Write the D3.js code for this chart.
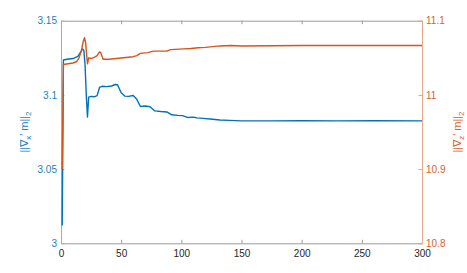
<!DOCTYPE html>
<html>
<head>
<meta charset="utf-8">
<script src="https://cdn.jsdelivr.net/npm/d3@7"></script>
<style>
  html, body { margin: 0; padding: 0; background: #fff; }
  svg { display: block; font-family: "Liberation Sans", Arial, sans-serif; }
</style>
</head>
<body>
<div id="chart"></div>
<script>
// iteration ticks and axis ticks
const xTicks = [0, 50, 100, 150, 200, 250, 300];
const leftTicks = [3, 3.05, 3.1, 3.15];
const leftTickLabels = ['3', '3.05', '3.1', '3.15'];
const rightTicks = [10.8, 10.9, 11, 11.1];
const rightTickLabels = ['10.8', '10.9', '11', '11.1'];

// ||grad_x' m||_2  (left axis, blue)
const blueIter = [1, 2, 5, 10, 14, 16, 18, 19, 20, 21, 22, 23, 25, 28, 30, 32, 34, 38, 42, 45, 47, 50, 53, 56, 60, 63, 66, 70, 74, 78, 83, 88, 92, 97, 101, 105, 110, 113, 118, 124, 132, 140, 150, 175, 200, 230, 260, 300];
const blueValues = [3.012, 3.1235, 3.1240, 3.1245, 3.1260, 3.1285, 3.1310, 3.1300, 3.1200, 3.1000, 3.0850, 3.0985, 3.0990, 3.0988, 3.0995, 3.1050, 3.1058, 3.1056, 3.1060, 3.1070, 3.1068, 3.1015, 3.0992, 3.0990, 3.0996, 3.0970, 3.0922, 3.0925, 3.0920, 3.0892, 3.0888, 3.0885, 3.0866, 3.0862, 3.0860, 3.0848, 3.0850, 3.0845, 3.0842, 3.0838, 3.0831, 3.0828, 3.0825, 3.0825, 3.0826, 3.0825, 3.0826, 3.0825];

// ||grad_z' m||_2  (right axis, orange)
const orangeIter = [1, 2, 6, 10, 13, 15, 17, 18.5, 19.5, 20.5, 21.5, 22, 23, 25, 28, 30, 32, 33, 35, 40, 46, 52, 60, 63, 66, 72, 77, 88, 91, 102, 108, 114, 120, 132, 141, 150, 200, 250, 300];
const orangeValues = [10.900, 11.041, 11.042, 11.043, 11.045, 11.050, 11.060, 11.072, 11.077, 11.070, 11.050, 11.042, 11.050, 11.049, 11.051, 11.053, 11.058, 11.057, 11.048, 11.048, 11.049, 11.050, 11.0515, 11.053, 11.056, 11.057, 11.059, 11.059, 11.061, 11.062, 11.0625, 11.0636, 11.064, 11.066, 11.0665, 11.066, 11.0665, 11.0665, 11.0665];

const width = 467, height = 273;
const margin = { top: 20.7, right: 45, bottom: 29.7, left: 61 };
const blue = '#0072BD', orange = '#D95319';

const svg = d3.select('#chart').append('svg')
  .attr('width', width)
  .attr('height', height)
  .attr('viewBox', [0, 0, width, height]);

const x = d3.scaleLinear().domain([0, 300]).range([margin.left, width - margin.right]);
const yL = d3.scaleLinear().domain([3, 3.15]).range([height - margin.bottom, margin.top]);
const yR = d3.scaleLinear().domain([10.8, 11.1]).range([height - margin.bottom, margin.top]);

svg.append('defs').append('clipPath').attr('id', 'plot')
  .append('rect')
  .attr('x', margin.left).attr('y', margin.top)
  .attr('width', width - margin.left - margin.right)
  .attr('height', height - margin.top - margin.bottom);

// bottom axis
const xAxis = svg.append('g')
  .attr('transform', `translate(0,${height - margin.bottom})`)
  .call(d3.axisBottom(x).tickValues(xTicks).tickFormat(d3.format('d'))
    .tickSizeInner(-3.5).tickSizeOuter(0).tickPadding(7));
// top axis (mirror ticks, no labels)
const xTop = svg.append('g')
  .attr('transform', `translate(0,${margin.top})`)
  .call(d3.axisTop(x).tickValues(xTicks).tickFormat('')
    .tickSizeInner(-3.5).tickSizeOuter(0));
[xAxis, xTop].forEach(g => {
  g.select('.domain').attr('stroke', '#9a9a9a');
  g.selectAll('.tick line').attr('stroke', '#9a9a9a');
  g.selectAll('text').attr('fill', '#262626').attr('font-size', 10)
    .attr('font-family', '"Liberation Sans", Arial, sans-serif');
});

// left axis
const leftAxis = svg.append('g')
  .attr('transform', `translate(${margin.left},0)`)
  .call(d3.axisLeft(yL).tickValues(leftTicks).tickFormat((d, i) => leftTickLabels[i])
    .tickSizeInner(-3.5).tickSizeOuter(0).tickPadding(4));
leftAxis.select('.domain').attr('stroke', '#7fb6de');
leftAxis.selectAll('.tick line').attr('stroke', '#9fb6c8');
leftAxis.selectAll('text').attr('fill', '#1a7fc6').attr('font-size', 10)
  .attr('font-family', '"Liberation Sans", Arial, sans-serif');

// right axis
const rightAxis = svg.append('g')
  .attr('transform', `translate(${width - margin.right},0)`)
  .call(d3.axisRight(yR).tickValues(rightTicks).tickFormat((d, i) => rightTickLabels[i])
    .tickSizeInner(-3.5).tickSizeOuter(0).tickPadding(4));
rightAxis.select('.domain').attr('stroke', '#e9a888');
rightAxis.selectAll('.tick line').attr('stroke', '#c8ab9c');
rightAxis.selectAll('text').attr('fill', '#d9622c').attr('font-size', 10)
  .attr('font-family', '"Liberation Sans", Arial, sans-serif');

// lines
const blueData = blueIter.map((t, i) => [t, blueValues[i]]);
const orangeData = orangeIter.map((t, i) => [t, orangeValues[i]]);

const plot = svg.append('g').attr('clip-path', 'url(#plot)');
plot.append('path')
  .datum(blueData)
  .attr('fill', 'none')
  .attr('stroke', blue)
  .attr('stroke-width', 1.4)
  .attr('stroke-linejoin', 'round')
  .attr('d', d3.line().x(d => x(d[0])).y(d => yL(d[1])));
plot.append('path')
  .datum(orangeData)
  .attr('fill', 'none')
  .attr('stroke', orange)
  .attr('stroke-width', 1.4)
  .attr('stroke-linejoin', 'round')
  .attr('d', d3.line().x(d => x(d[0])).y(d => yR(d[1])));

// axis labels
const midY = (margin.top + height - margin.bottom) / 2;
function axisLabel(xPos, color, sub) {
  const t = svg.append('text')
    .attr('transform', `translate(${xPos},${midY}) rotate(-90)`)
    .attr('text-anchor', 'middle')
    .attr('font-size', 11)
    .attr('fill', color);
  t.append('tspan').text('||∇');
  t.append('tspan').attr('font-size', 8).attr('dy', 3).text(sub);
  t.append('tspan').attr('dy', -3).text('\u2032 m||');
  t.append('tspan').attr('font-size', 8).attr('dy', 3).text('2');
}
axisLabel(28, '#1a7fc6', 'x');
axisLabel(461, '#d9622c', 'z');
</script>
</body>
</html>
